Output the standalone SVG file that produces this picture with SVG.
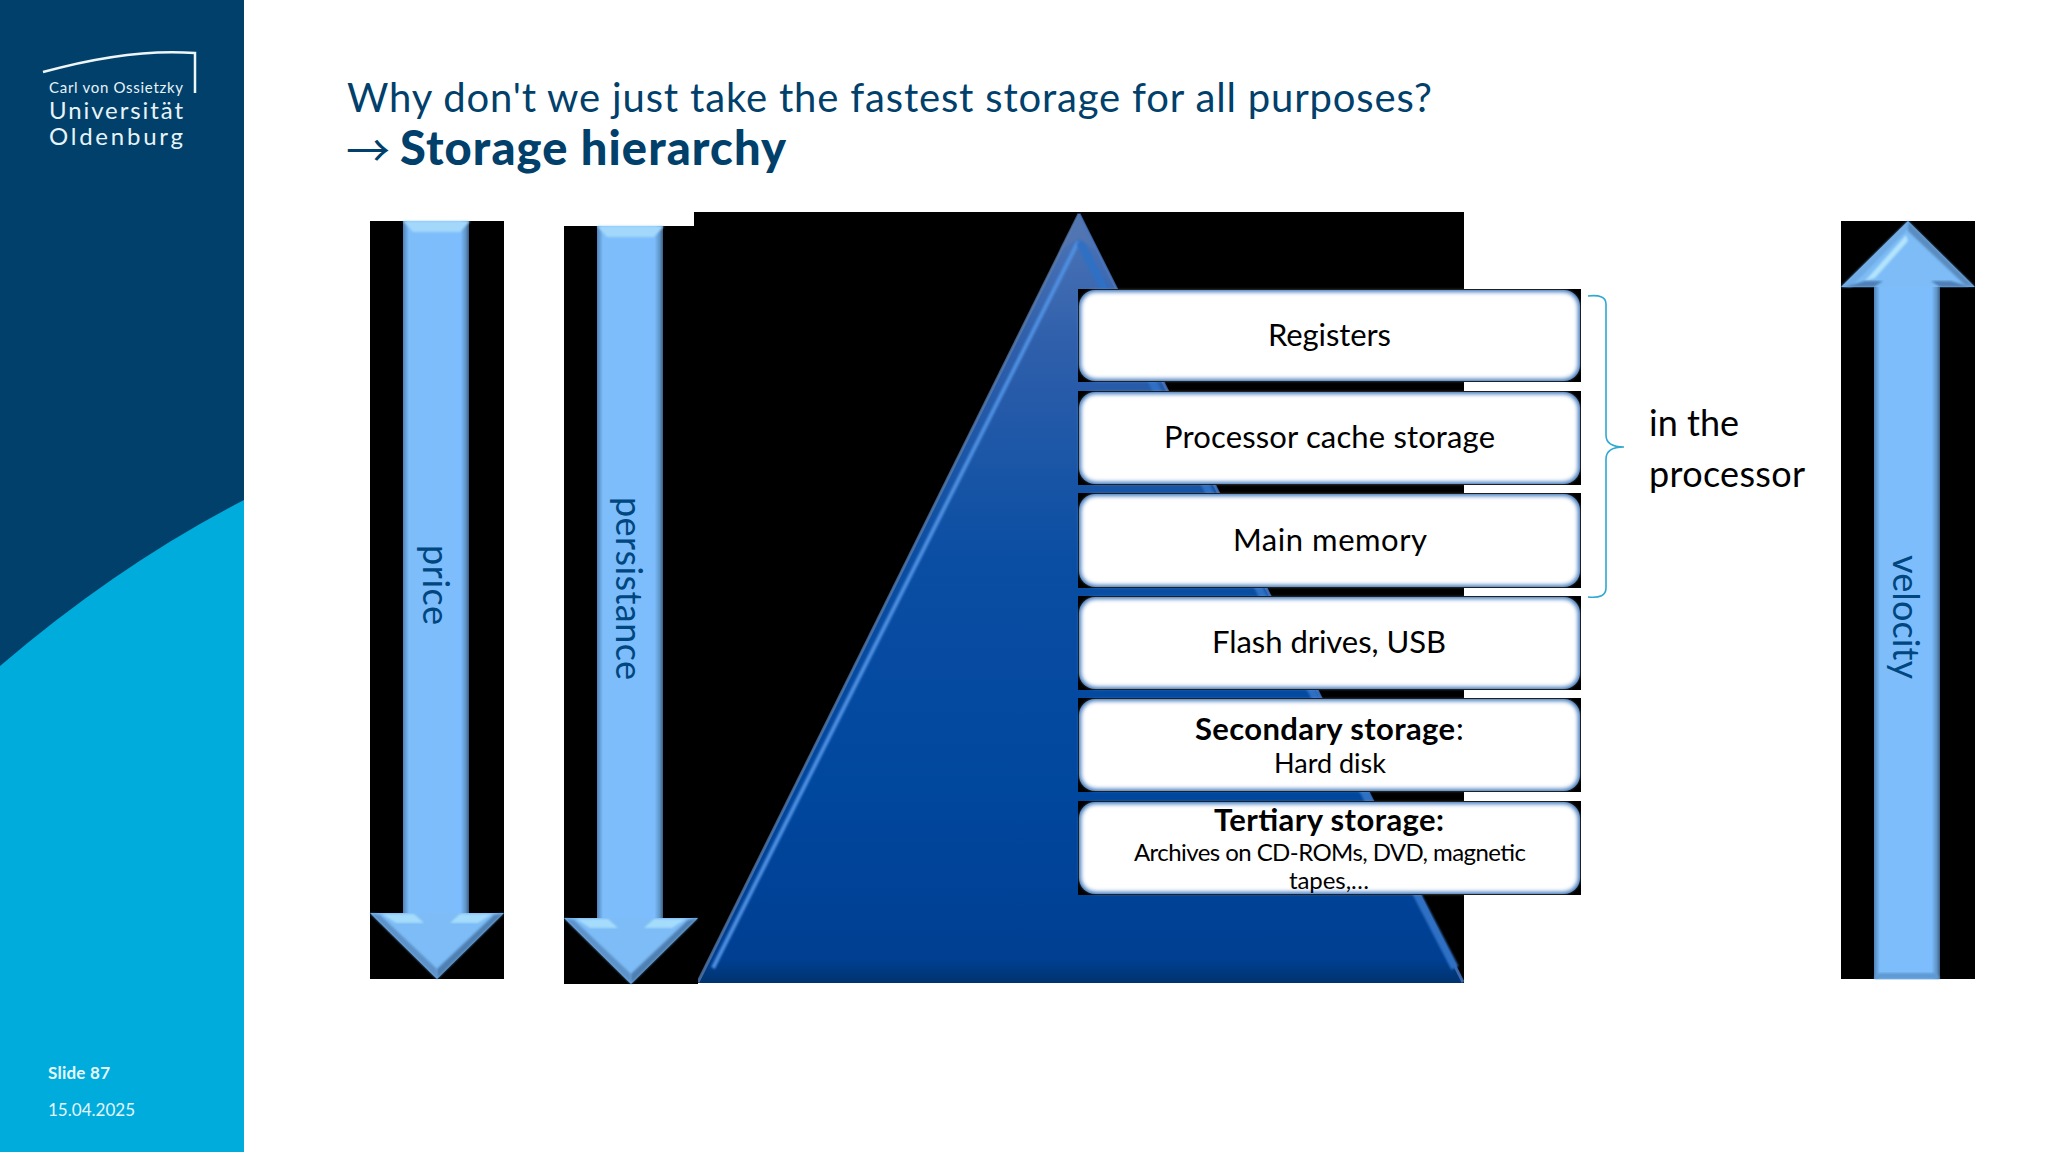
<svg xmlns="http://www.w3.org/2000/svg" xmlns:xlink="http://www.w3.org/1999/xlink" width="2048" height="1152" viewBox="0 0 2048 1152">
<style>
text{font-family:Lato,"Liberation Sans",sans-serif}
.ti{fill:#00406b}
.lbl{fill:#000;font-size:31px;text-anchor:start}
.sm{fill:#000;font-size:24px}
.b{font-weight:700}
.arr{fill:#00467f;font-size:36px}
.lg{fill:#e8f3f8}
.box{fill:#000}
.edge{fill:#3f78bd}
.in{fill:#fff;filter:url(#s1)}
</style>
<defs>
<filter id="s1" x="-5%" y="-5%" width="110%" height="110%"><feGaussianBlur stdDeviation="2"/></filter>
<filter id="s2" x="-10%" y="-10%" width="120%" height="120%"><feGaussianBlur stdDeviation="0.9"/></filter>
<linearGradient id="sh" x1="0" x2="1" y1="0" y2="0">
<stop offset="0" stop-color="#4f83b8"/><stop offset=".09" stop-color="#7dbdfa"/><stop offset=".87" stop-color="#7dbdfd"/><stop offset=".95" stop-color="#5f95c8"/><stop offset="1" stop-color="#3d5f85"/>
</linearGradient>
<linearGradient id="tr" gradientUnits="userSpaceOnUse" x1="0" y1="213" x2="0" y2="982">
<stop offset="0" stop-color="#4f76b8"/><stop offset=".17" stop-color="#2f5fab"/><stop offset=".45" stop-color="#0a4ea3"/><stop offset=".75" stop-color="#00479e"/><stop offset=".97" stop-color="#003f92"/><stop offset="1" stop-color="#003470"/>
</linearGradient>
<g id="down">
<rect width="134" height="758" fill="#000"/>
<rect x="33" width="66" height="694" fill="url(#sh)"/>
<polygon points="33,0 100,0 90,11 43,11" fill="#a3d8fb" filter="url(#s2)"/>
<polygon points="0,692 33,692 99,692 134,692 67,758" fill="#7dbcf6"/>
<polygon points="0,692 67,758 67,748 10,694" fill="#5d93c9" filter="url(#s2)"/>
<polygon points="134,692 67,758 67,748 124,694" fill="#4f80b2" filter="url(#s2)"/>
<polygon points="12,693 44,693 54,702 26,702" fill="#a6dcfb" filter="url(#s2)"/>
<polygon points="90,693 122,693 108,702 80,702" fill="#a6dcfb" filter="url(#s2)"/>
</g>
<g id="up">
<rect width="134" height="758" fill="#000"/>
<rect x="33" y="60" width="66" height="698" fill="url(#sh)"/>
<polygon points="0,66 67,0 134,66" fill="#7dbcf6"/>
<polygon points="0,66 67,0 67,8 10,66" fill="#70ace6" filter="url(#s2)"/>
<polygon points="24,60 65,14 67,20 34,57" fill="#b4e4fc" filter="url(#s2)"/>
<polygon points="134,66 67,0 67,10 124,64" fill="#5a8cc0" filter="url(#s2)"/>
<polygon points="4,66 33,66 42,60 24,60" fill="#4f7fb4" filter="url(#s2)"/>
<polygon points="130,66 99,66 90,60 110,60" fill="#4f7fb4" filter="url(#s2)"/>
<polygon points="33,758 99,758 95,752 37,752" fill="#5f9ad4" filter="url(#s2)"/>
</g>
</defs>
<rect width="2048" height="1152" fill="#fff"/>
<g id="sidebar">
<rect width="244" height="1152" fill="#00406b"/>
<path d="M0,666 Q118,565 244,500 V1152 H0 Z" fill="#00acdc"/>
<path d="M43,72 Q130,48 195,53 V93" fill="none" stroke="#eef6f9" stroke-width="2.5"/>
<text class="lg" x="49" y="93" font-size="15" textLength="134">Carl von Ossietzky</text>
<text class="lg" x="49" y="119" font-size="24" textLength="134">Universität</text>
<text class="lg" x="49" y="145" font-size="24" textLength="134">Oldenburg</text>
<text x="48" y="1079" font-size="17" font-weight="700" fill="#e6f7fc" textLength="62">Slide 87</text>
<text x="48" y="1116" font-size="17" fill="#e6f7fc" textLength="87">15.04.2025</text>
</g>
<g id="title">
<text class="ti" x="347" y="112" font-size="40" textLength="1085">Why don't we just take the fastest storage for all purposes?</text>
<text class="ti" x="346" y="167" font-size="44" style="font-family:'Noto Sans CJK SC',sans-serif">→</text>
<text class="ti" x="400" y="165" font-size="47" font-weight="900" textLength="386">Storage hierarchy</text>
</g>
<g id="pyramid">
<rect x="694" y="212" width="770" height="771" fill="#000"/>
<polygon points="1079,213 1464,983 697,983" fill="url(#tr)"/>
<polyline points="1079,214 698,982" fill="none" stroke="#5a7ba8" stroke-width="3" opacity=".75"/>
<polyline points="1079,214 1463,982" fill="none" stroke="#4a76bd" stroke-width="3" opacity=".8"/>
<polyline points="1078,242 713,968" fill="none" stroke="#4f8fe0" stroke-width="4" filter="url(#s2)"/>
<polyline points="1080,242 1455,968" fill="none" stroke="#2f6fc4" stroke-width="8" filter="url(#s2)"/>
<polygon points="1079,215 1060,250 1079,238 1095,250" fill="#5578b0" opacity=".6" filter="url(#s2)"/>
</g>
<g id="arrow-price">
<use href="#down" x="370" y="221"/>
<text class="arr" transform="translate(423,545) rotate(90)" textLength="80">price</text>
</g>
<g id="arrow-persistance">
<use href="#down" x="564" y="226"/>
<text class="arr" transform="translate(616,497) rotate(90)" textLength="183">persistance</text>
</g>
<g id="arrow-velocity">
<use href="#up" x="1841" y="221"/>
<text class="arr" transform="translate(1893,555) rotate(90)" textLength="124">velocity</text>
</g>
<g id="node-registers">
<rect class="box" x="1078" y="289" width="503" height="93"/><rect class="edge" x="1079" y="290" width="501" height="91" rx="16"/><rect class="in" x="1081" y="292" width="497" height="87" rx="15"/>
<text class="lbl" x="1268" y="346" textLength="123">Registers</text>
</g>
<g id="node-cache">
<rect class="box" x="1078" y="391" width="503" height="94"/><rect class="edge" x="1079" y="392" width="501" height="92" rx="16"/><rect class="in" x="1081" y="394" width="497" height="88" rx="15"/>
<text class="lbl" x="1164" y="448" textLength="331">Processor cache storage</text>
</g>
<g id="node-main">
<rect class="box" x="1078" y="493" width="503" height="95"/><rect class="edge" x="1079" y="494" width="501" height="93" rx="16"/><rect class="in" x="1081" y="496" width="497" height="89" rx="15"/>
<text class="lbl" x="1233" y="551" textLength="194">Main memory</text>
</g>
<g id="node-flash">
<rect class="box" x="1078" y="596" width="503" height="94"/><rect class="edge" x="1079" y="597" width="501" height="92" rx="16"/><rect class="in" x="1081" y="599" width="497" height="88" rx="15"/>
<text class="lbl" x="1212" y="653" textLength="234">Flash drives, USB</text>
</g>
<g id="node-secondary">
<rect class="box" x="1078" y="698" width="503" height="94"/><rect class="edge" x="1079" y="699" width="501" height="92" rx="16"/><rect class="in" x="1081" y="701" width="497" height="88" rx="15"/>
<text class="lbl b" x="1195" y="740" textLength="260">Secondary storage</text><text class="lbl" x="1456" y="740">:</text>
<text class="sm" x="1274" y="773" style="font-size:27px" textLength="112">Hard disk</text>
</g>
<g id="node-tertiary">
<rect class="box" x="1078" y="801" width="503" height="94"/><rect class="edge" x="1079" y="802" width="501" height="92" rx="16"/><rect class="in" x="1081" y="804" width="497" height="88" rx="15"/>
<text class="lbl b" x="1214" y="831" textLength="230">Tertiary storage:</text>
<text class="sm" x="1134" y="861" textLength="392">Archives on CD-ROMs, DVD, magnetic</text>
<text class="sm" x="1289" y="889" textLength="80">tapes,…</text>
</g>
<g id="connectors">
<path d="M1588,296 Q1606,294 1606,304 V435 Q1606,447 1624,447 Q1606,447 1606,459 V588 Q1606,599 1588,597" fill="none" stroke="#2fa9cf" stroke-width="1.6"/>
</g>
<g id="label-processor">
<text x="1649" y="436" font-size="36" fill="#000" textLength="90">in the</text>
<text x="1649" y="487" font-size="36" fill="#000" textLength="156">processor</text>
</g>
</svg>
